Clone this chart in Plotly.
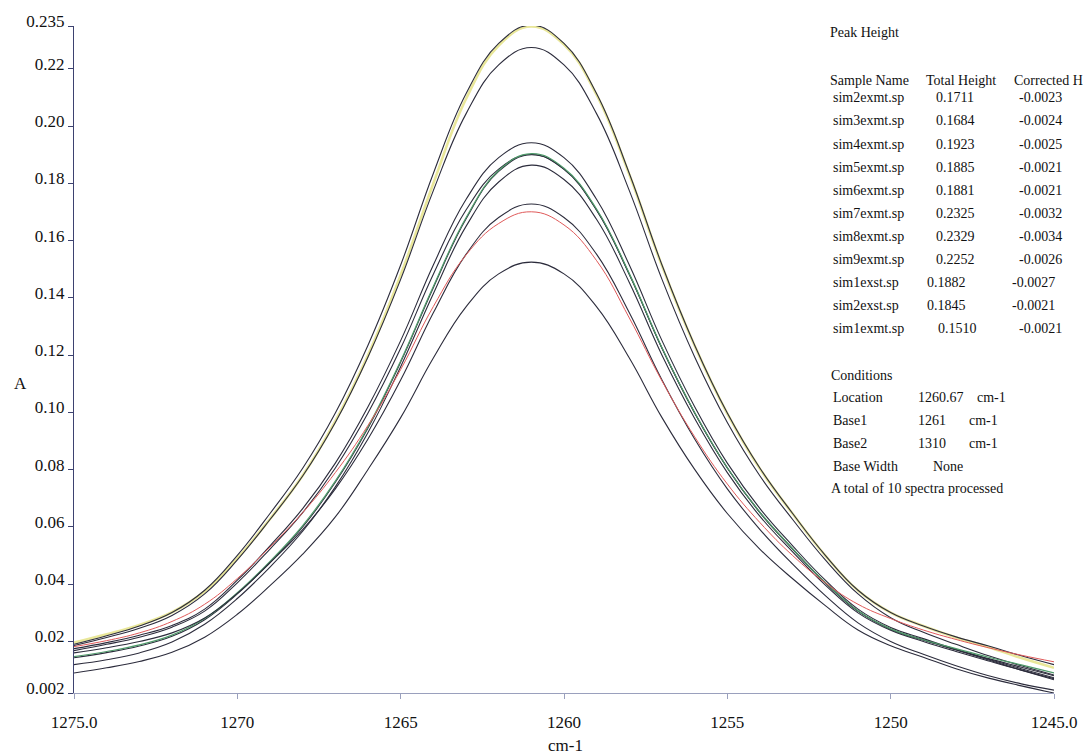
import plotly.graph_objects as go

# Wavenumber grid (cm-1) shared by every spectrum, 1 cm-1 steps
wavenumber = [1275, 1274, 1273, 1272, 1271, 1270, 1269, 1268, 1267, 1266,
              1265, 1264, 1263, 1262, 1261, 1260, 1259, 1258, 1257, 1256,
              1255, 1254, 1253, 1252, 1251, 1250, 1249, 1248, 1247, 1246,
              1245]

# Absorbance of each spectrum on the grid above
sim8exmt = [.0190, .0220, .0254, .0301, .0379, .0501, .0647, .0805, .0998, .1235,
            .1515, .1835, .2113, .2289, .2353, .2289, .2113, .1835, .1515, .1235,
            .0998, .0805, .0647, .0501, .0379, .0301, .0254, .0216, .0184, .0150,
            .0119]
sim7exmt = [.0196, .0225, .0258, .0302, .0375, .0490, .0628, .0780, .0970, .1200,
            .1480, .1800, .2095, .2282, .2348, .2285, .2109, .1831, .1512, .1233,
            .0996, .0803, .0646, .0500, .0378, .0301, .0254, .0214, .0180, .0142,
            .0108]
sim9exmt = [.0186, .0214, .0246, .0291, .0366, .0485, .0626, .0778, .0965, .1194,
            .1465, .1775, .2043, .2214, .2275, .2214, .2043, .1775, .1465, .1194,
            .0965, .0778, .0626, .0485, .0366, .0283, .0232, .0190, .0150, .0115,
            .0083]
sim4exmt = [.0175, .0196, .0222, .0256, .0313, .0414, .0534, .0664, .0823, .1020,
            .1251, .1515, .1744, .1890, .1942, .1890, .1744, .1515, .1251, .1020,
            .0823, .0664, .0534, .0414, .0313, .0249, .0210, .0172, .0140, .0110,
            .0080]
sim5exmt = [.0147, .0165, .0188, .0222, .0280, .0370, .0480, .0605, .0760, .0950,
            .1180, .1440, .1680, .1845, .1904, .1853, .1710, .1485, .1226, .1000,
            .0807, .0651, .0524, .0406, .0307, .0244, .0206, .0175, .0145, .0118,
            .0090]
sim6exmt = [.0143, .0161, .0184, .0218, .0276, .0366, .0476, .0600, .0756, .0946,
            .1176, .1436, .1676, .1842, .1900, .1849, .1706, .1482, .1224, .0998,
            .0806, .0650, .0523, .0405, .0306, .0243, .0205, .0170, .0135, .0100,
            .0066]
sim1exst = [.0168, .0190, .0215, .0250, .0306, .0405, .0523, .0650, .0806, .0998,
            .1224, .1483, .1707, .1850, .1901, .1850, .1707, .1483, .1224, .0998,
            .0806, .0650, .0523, .0405, .0306, .0243, .0205, .0172, .0138, .0105,
            .0073]
sim2exst = [.0119, .0136, .0160, .0198, .0260, .0350, .0460, .0585, .0740, .0930,
            .1160, .1415, .1650, .1805, .1864, .1814, .1674, .1454, .1200, .0979,
            .0790, .0637, .0513, .0397, .0300, .0239, .0200, .0165, .0132, .0100,
            .0070]
sim2exmt = [.0160, .0178, .0200, .0230, .0282, .0368, .0475, .0591, .0733, .0907,
            .1113, .1348, .1552, .1681, .1728, .1681, .1552, .1348, .1113, .0907,
            .0733, .0591, .0470, .0360, .0265, .0200, .0155, .0115, .0080, .0052,
            .0030]
sim3exmt = [.0182, .0203, .0230, .0270, .0330, .0420, .0530, .0650, .0790, .0955,
            .1150, .1370, .1550, .1660, .1701, .1655, .1530, .1330, .1110, .0915,
            .0750, .0615, .0500, .0405, .0330, .0280, .0240, .0207, .0178, .0152,
            .0129]
sim1exmt = [.0090, .0108, .0130, .0162, .0215, .0295, .0395, .0505, .0635, .0801,
            .0982, .1190, .1369, .1484, .1525, .1484, .1369, .1190, .0982, .0801,
            .0647, .0522, .0419, .0325, .0240, .0185, .0145, .0105, .0072, .0045,
            .0020]

# Peak-height report table
sample_names = ["sim2exmt.sp", "sim3exmt.sp", "sim4exmt.sp", "sim5exmt.sp",
                "sim6exmt.sp", "sim7exmt.sp", "sim8exmt.sp", "sim9exmt.sp",
                "sim1exst.sp", "sim2exst.sp", "sim1exmt.sp"]
total_heights = ["0.1711", "0.1684", "0.1923", "0.1885", "0.1881", "0.2325",
                 "0.2329", "0.2252", "0.1882", "0.1845", "0.1510"]
corrected_heights = ["-0.0023", "-0.0024", "-0.0025", "-0.0021", "-0.0021",
                     "-0.0032", "-0.0034", "-0.0026", "-0.0027", "-0.0021",
                     "-0.0021"]

# Axis ticks
x_tickvals = [1275, 1270, 1265, 1260, 1255, 1250, 1245]
x_ticktext = ["1275.0", "1270", "1265", "1260", "1255", "1250", "1245.0"]
y_tickvals = [0.002, 0.02, 0.04, 0.06, 0.08, 0.10, 0.12, 0.14, 0.16, 0.18,
              0.20, 0.22, 0.235]
y_ticktext = ["0.002", "0.02", "0.04", "0.06", "0.08", "0.10", "0.12", "0.14",
              "0.16", "0.18", "0.20", "0.22", "0.235"]

W, H = 1089, 756
ML, MR, MT, MB = 74, 30, 25, 63
PW, PH = W - ML - MR, H - MT - MB

SERIF = "Liberation Serif, serif"
DARK = "#2c2c3c"

spectra = [
    ("sim7exmt", sim7exmt, "#e9e79a", 2.6),
    ("sim8exmt", sim8exmt, DARK, 1.1),
    ("sim9exmt", sim9exmt, DARK, 1.1),
    ("sim4exmt", sim4exmt, DARK, 1.1),
    ("sim1exst", sim1exst, DARK, 1.1),
    ("sim6exmt", sim6exmt, DARK, 1.1),
    ("sim2exst", sim2exst, DARK, 1.1),
    ("sim5exmt", sim5exmt, "#4f9a6a", 1.2),
    ("sim2exmt", sim2exmt, DARK, 1.1),
    ("sim3exmt", sim3exmt, "#e05a5a", 1.0),
    ("sim1exmt", sim1exmt, DARK, 1.1),
]

fig = go.Figure()
for name, ys, color, width in spectra:
    fig.add_trace(go.Scatter(
        x=wavenumber, y=ys, mode="lines", name=name,
        line=dict(color=color, width=width, shape="spline", smoothing=1.2),
        showlegend=False, hoverinfo="skip",
    ))


def px_x(px):
    return (px - ML) / PW


def px_y(py):
    return (H - MB - py) / PH


annotations = []


def label(text, x, y, size=14):
    annotations.append(dict(
        text=text, x=px_x(x), y=px_y(y), xref="paper", yref="paper",
        xanchor="left", yanchor="middle", showarrow=False,
        font=dict(family=SERIF, size=size, color="#111111"),
    ))


label("Peak Height", 832, 32)
label("Sample Name", 832, 80)
label("Total Height", 928, 80)
label("Corrected H", 1017, 80)

height_x = [938] * 8 + [929, 929, 940]
corr_x = [1022] * 8 + [1015, 1015, 1022]
for i, (n, th, ch) in enumerate(zip(sample_names, total_heights, corrected_heights)):
    y = 97 + 23.1 * i
    label(n, 835, y)
    label(th, height_x[i], y)
    label(ch, corr_x[i], y)

label("Conditions", 833, 375)
label("Location", 835, 397)
label("1260.67", 920, 397)
label("cm-1", 980, 397)
label("Base1", 835, 420)
label("1261", 920, 420)
label("cm-1", 972, 420)
label("Base2", 835, 443)
label("1310", 920, 443)
label("cm-1", 972, 443)
label("Base Width", 835, 466)
label("None", 935, 466)
label("A total of 10 spectra processed", 833, 488)

# Axis titles
annotations.append(dict(text="A", x=px_x(12), y=px_y(383), xref="paper",
                        yref="paper", showarrow=False, xanchor="left",
                        yanchor="middle",
                        font=dict(family=SERIF, size=17, color="#111111")))
annotations.append(dict(text="cm-1", x=px_x(568), y=px_y(746), xref="paper",
                        yref="paper", showarrow=False, xanchor="center",
                        yanchor="middle",
                        font=dict(family=SERIF, size=17, color="#111111")))

fig.update_layout(
    width=W, height=H,
    margin=dict(l=ML, r=MR, t=MT, b=MB),
    paper_bgcolor="white", plot_bgcolor="white",
    annotations=annotations,
    xaxis=dict(
        range=[1275, 1245], tickvals=x_tickvals, ticktext=x_ticktext,
        showgrid=False, zeroline=False, showline=True,
        linecolor="#9aa0bd", linewidth=1.2,
        ticks="outside", ticklen=5, tickcolor="#9aa0bd",
        ticklabelstandoff=8,
        tickfont=dict(family=SERIF, size=17, color="#111111"),
    ),
    yaxis=dict(
        range=[0.002, 0.235], tickvals=y_tickvals, ticktext=y_ticktext,
        showgrid=False, zeroline=False, showline=True,
        linecolor="#3d4270", linewidth=1.2,
        ticks="outside", ticklen=5, tickcolor="#3d4270",
        ticklabelshift=-5,
        tickfont=dict(family=SERIF, size=17, color="#111111"),
    ),
)

fig.write_html("out.html")
